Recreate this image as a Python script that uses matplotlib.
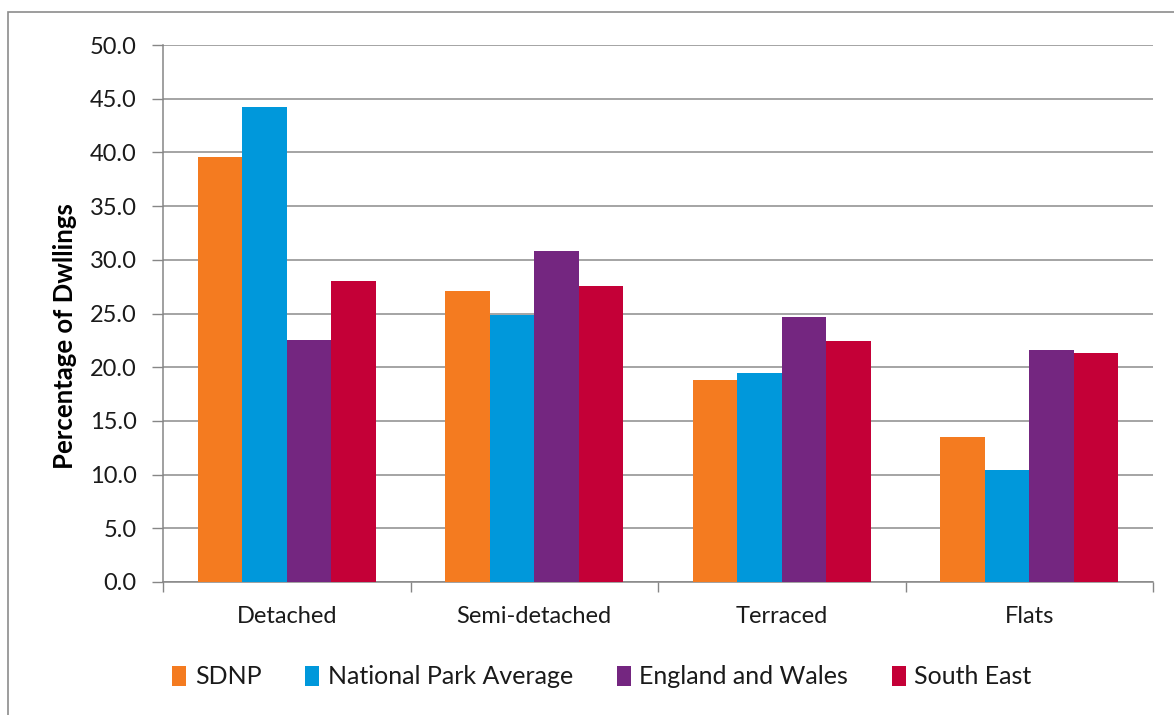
import matplotlib
matplotlib.use("Agg")
import matplotlib.pyplot as plt
import numpy as np
from matplotlib.patches import Rectangle

categories = ["Detached", "Semi-detached", "Terraced", "Flats"]
series_names = ["SDNP", "National Park Average", "England and Wales", "South East"]
sdnp = [39.6, 27.1, 18.8, 13.5]
npa = [44.2, 24.9, 19.5, 10.4]
ew = [22.5, 30.8, 24.7, 21.6]
se = [28.0, 27.6, 22.4, 21.3]
colors = ["#F47B20", "#0098DB", "#742680", "#C40037"]
yticks = [0, 5, 10, 15, 20, 25, 30, 35, 40, 45, 50]

plt.rcParams['font.family'] = ['Lato', 'DejaVu Sans']
plt.rcParams['text.color'] = '#1a1a1a'

fig = plt.figure(figsize=(11.74, 7.15), dpi=100)
ax = fig.add_axes([163/1174, 1-582/715, (1153-163)/1174, (582-45)/715])

# outer frame
fig.patches.append(Rectangle((8/1174, -0.05), 1.2, 1.05-12/715, transform=fig.transFigure,
                             fill=False, edgecolor="#8c8c8c", linewidth=1.2))

x = np.arange(len(categories))
w = 0.18
for i, (vals, name) in enumerate(zip([sdnp, npa, ew, se], series_names)):
    ax.bar(x + (i - 1.5) * w, vals, width=w, color=colors[i], label=name, zorder=3)

ax.set_xlim(-0.5, len(categories) - 0.5)
ax.set_ylim(0, 50)
ax.set_yticks(yticks)
ax.set_yticklabels([f"{v:.1f}" for v in yticks], fontsize=17, color='#1a1a1a')
ax.set_xticks(x)
ax.set_xticklabels(categories, fontsize=17, color='#1a1a1a')
ax.tick_params(axis='x', length=0, pad=17)
ax.set_xticks(np.arange(len(categories) + 1) - 0.5, minor=True)
ax.tick_params(axis='x', which='minor', length=7, color="#868686", width=1)
ax.tick_params(axis='y', length=8, color="#868686", width=1, pad=11)
ax.grid(axis='y', color="#8c8c8c", linewidth=1.1, zorder=0)
for s in ["top", "right"]:
    ax.spines[s].set_visible(False)
for s in ["left", "bottom"]:
    ax.spines[s].set_color("#868686")
    ax.spines[s].set_linewidth(1.1)
ax.set_ylabel("Percentage of Dwllings", fontsize=18.5, fontweight='bold', labelpad=10)
ax.yaxis.set_label_coords(77/990 - 163/990, (582-336)/537)

fig.legend(loc='center', bbox_to_anchor=(602/1174, 1-677/715), ncol=4, frameon=False,
           fontsize=18, handlelength=0.55, handleheight=0.85, handletextpad=0.35,
           columnspacing=1.75)

fig.savefig("out.png", dpi=100)
